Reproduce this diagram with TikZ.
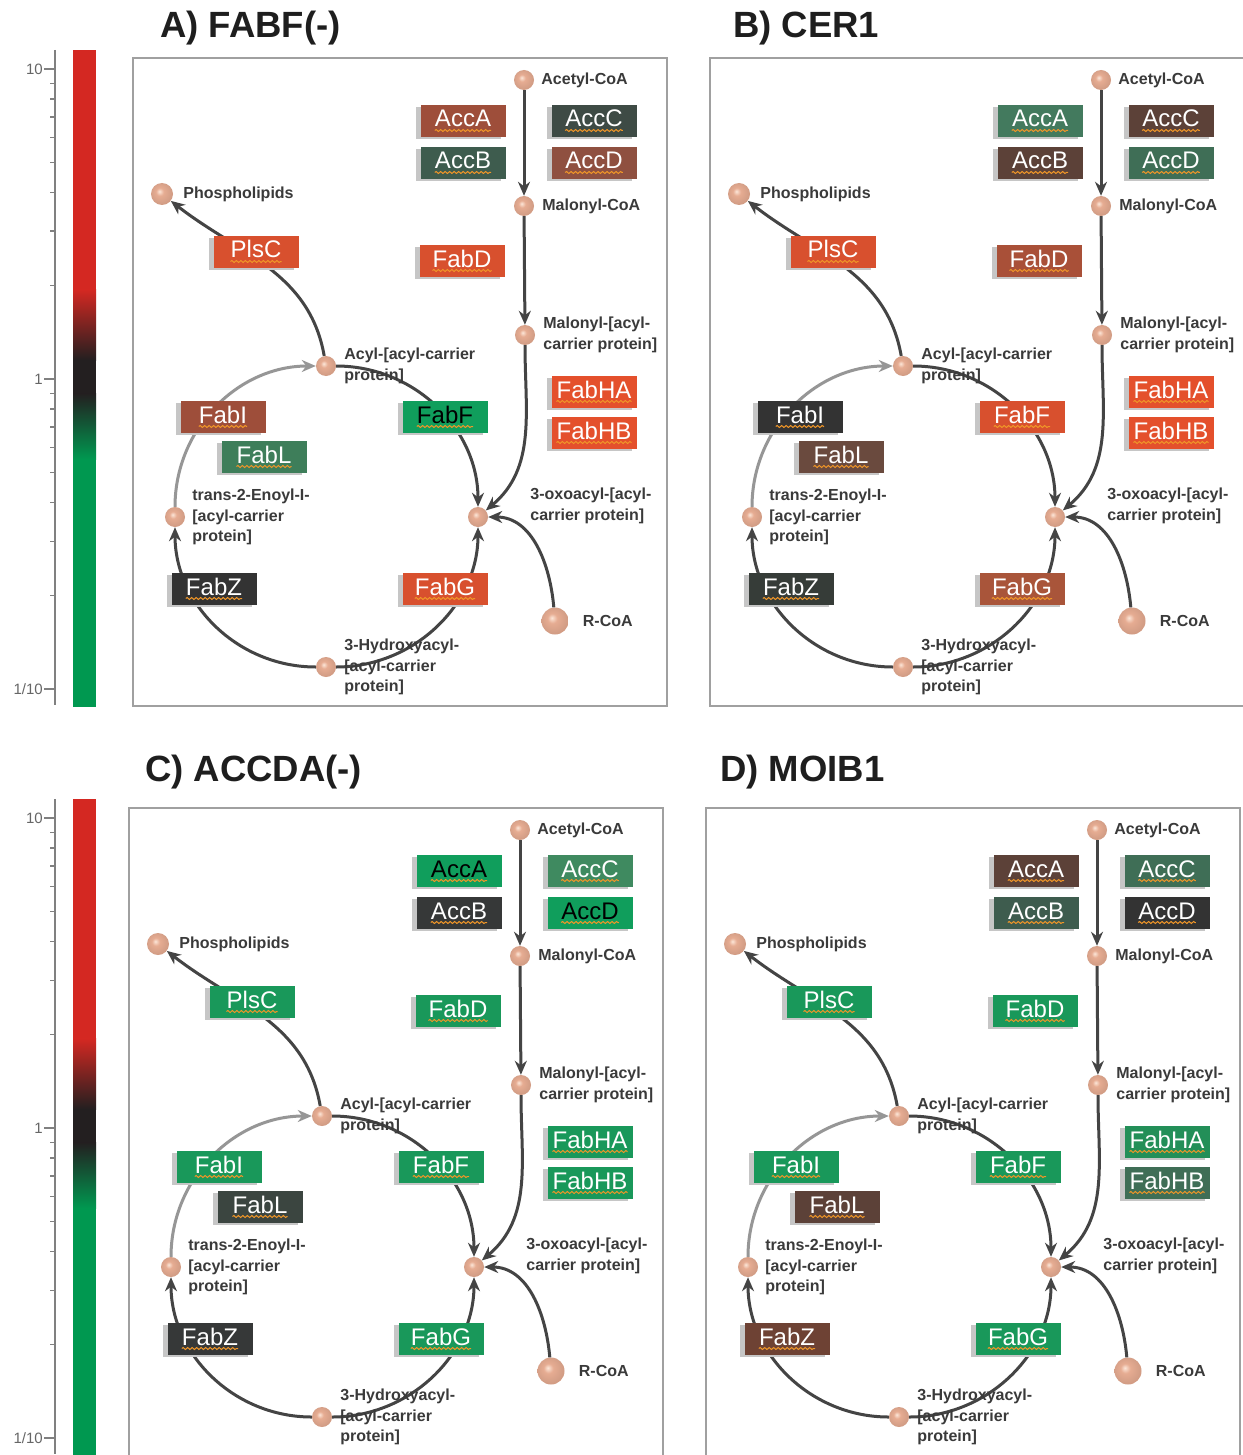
\documentclass[tikz,border=0pt]{standalone}
\usepackage{fontspec}
\setmainfont{Liberation Sans}
\usetikzlibrary{positioning,arrows.meta,shadows,decorations.pathmorphing}

% palette
\definecolor{peach}{RGB}{230,172,146}
\definecolor{peachhi}{RGB}{252,230,216}
\definecolor{peachlo}{RGB}{208,148,122}
\definecolor{edgegray}{RGB}{68,68,68}
\definecolor{lightedge}{RGB}{150,150,150}
\definecolor{framegray}{RGB}{160,160,160}
\definecolor{metgray}{RGB}{58,58,58}
\definecolor{titlegray}{RGB}{30,30,30}
\definecolor{wavecol}{RGB}{240,150,40}
\definecolor{barred}{RGB}{212,40,34}
\definecolor{barblack}{RGB}{35,31,32}
\definecolor{bargreen}{RGB}{0,152,80}
\definecolor{orangered}{RGB}{216,80,46}
\definecolor{brightred}{RGB}{228,80,44}
\definecolor{rust}{RGB}{158,78,58}
\definecolor{rustdark}{RGB}{143,80,64}
\definecolor{slate}{RGB}{62,75,69}
\definecolor{moss}{RGB}{62,92,78}
\definecolor{leaf}{RGB}{62,126,90}
\definecolor{mint}{RGB}{16,158,92}
\definecolor{coal}{RGB}{51,51,51}
\definecolor{sage}{RGB}{67,122,94}
\definecolor{cocoa}{RGB}{92,65,56}
\definecolor{pine}{RGB}{63,110,86}
\definecolor{clay}{RGB}{169,80,56}
\definecolor{umber}{RGB}{106,74,62}
\definecolor{charcoal}{RGB}{54,60,56}
\definecolor{sienna}{RGB}{169,85,58}
\definecolor{emerald}{RGB}{25,152,90}
\definecolor{fern}{RGB}{63,138,96}
\definecolor{graphite}{RGB}{54,56,56}
\definecolor{ash}{RGB}{59,69,64}
\definecolor{jade}{RGB}{35,143,88}
\definecolor{chestnut}{RGB}{110,66,52}

\pgfdeclareradialshading{peachball}{\pgfpoint{-6bp}{6bp}}{color(0bp)=(peachhi); color(9bp)=(peach); color(24bp)=(peach!92!black); color(34bp)=(peachlo); color(50bp)=(peachlo)}

\newcommand{\metfont}{\fontsize{16}{20.7}\selectfont}
\newcommand{\enzfont}{\fontsize{24}{24}\selectfont}

\tikzset{
  met/.style={circle, minimum size=20pt, inner sep=0pt, shading=peachball},
  metname/.style={inner sep=0pt, align=left, text=metgray, font=\metfont\bfseries},
  enzbox/.style={rectangle, minimum width=85pt, minimum height=32pt, inner sep=0pt,
    text=white, font=\enzfont, text height=17pt, text depth=5pt,
    general shadow={fill=gray!45, shadow xshift=-5pt, shadow yshift=-2pt}},
  enzword/.style={inner sep=0pt, anchor=base, font=\enzfont},
  spellwave/.style={draw=wavecol, line width=1pt, decorate,
    decoration={snake, amplitude=1pt, segment length=4.5pt}},
  flow/.style={draw=edgegray, line width=3pt, ->, >={Stealth[length=14pt,width=12pt]}},
  frame/.style={draw=framegray, line width=1.5pt},
  paneltitle/.style={inner sep=0pt, anchor=west, text=titlegray, font=\fontsize{36.5}{40}\selectfont\bfseries},
  axis/.style={draw=gray, line width=1.2pt},
  ticklabel/.style={inner sep=0pt, anchor=east, text=gray!80!black, font=\fontsize{15}{15}\selectfont}
}

% enzyme box with its wavy underline: name, position, text, extra keys
\newcommand{\enzyme}[4]{%
  \node[enzbox, fill=c#3, #4] (#1) at (#2) {#3};
  \node[enzword] (#1-w) at (#1.base) {\phantom{#3}};
  \draw[spellwave] ([yshift=-3.5pt]#1-w.base west) -- ([yshift=-3.5pt]#1-w.base east);
}

% one pathway panel, frame corner at the origin
\newcommand{\fasnetwork}{%
  \draw[frame] (0,0) rectangle (534,-648);
  % metabolites
  \node[met] (acetyl) at (391,-22) {};
  \node[met] (malcoa) at (391,-148) {};
  \node[met] (malacp) at (392,-277) {};
  \node[met] (oxo) at (345,-459) {};
  \node[met, minimum size=27pt] (rcoa) at (422,-563) {};
  \node[met] (hydroxy) at (193,-609) {};
  \node[met] (enoyl) at (42,-459) {};
  \node[met] (acyl) at (193,-308) {};
  \node[met, minimum size=22pt] (phospho) at (29,-136) {};
  % reactions
  \draw[flow] (acetyl) -- (malcoa);
  \draw[flow] (malcoa) -- (malacp);
  \draw[flow] (malacp) to[out=-90,in=40] (oxo);
  \draw[flow] (rcoa) to[out=95,in=0] (oxo);
  \draw[flow] (acyl) to[out=0,in=90] (oxo);
  \draw[flow] (hydroxy) to[out=0,in=-90] (oxo);
  \draw[flow] (hydroxy) to[out=180,in=-90] (enoyl);
  \draw[flow, draw=lightedge] (enoyl) to[out=90,in=180] (acyl);
  \draw[flow] (acyl) to[out=100,in=-38] (phospho);
  % metabolite names
  \node[metname, right=7pt of acetyl] (acetyl-t) {Acetyl-CoA};
  \node[metname, right=8pt of malcoa] (malcoa-t) {Malonyl-CoA};
  \node[metname, right=8pt of malacp] (malacp-t) {Malonyl-[acyl-\\carrier protein]};
  \node[metname, anchor=west] (oxo-t) at ([xshift=42pt,yshift=11pt]oxo.east) {3-oxoacyl-[acyl-\\carrier protein]};
  \node[metname, right=14pt of rcoa] (rcoa-t) {R-CoA};
  \node[metname, right=8pt of hydroxy] (hydroxy-t) {3-Hydroxyacyl-\\{}[acyl-carrier\\protein]};
  \node[metname, right=7pt of enoyl] (enoyl-t) {trans-2-Enoyl-I-\\{}[acyl-carrier\\protein]};
  \node[metname, right=8pt of acyl] (acyl-t) {Acyl-[acyl-carrier\\protein]};
  \node[metname, right=10pt of phospho] (phospho-t) {Phospholipids};
  % enzymes
  \enzyme{accA}{330,-63}{AccA}{tAccA/.try}
  \enzyme{accC}{461,-63}{AccC}{}
  \enzyme{accB}{330,-105}{AccB}{}
  \enzyme{accD}{461,-105}{AccD}{tAccD/.try}
  \enzyme{plsC}{123,-194}{PlsC}{}
  \enzyme{fabD}{329,-203}{FabD}{}
  \enzyme{fabHA}{461,-334}{FabHA}{}
  \enzyme{fabHB}{461,-375}{FabHB}{}
  \enzyme{fabI}{90,-359}{FabI}{}
  \enzyme{fabL}{131,-399}{FabL}{}
  \enzyme{fabF}{312,-359}{FabF}{tFabF/.try}
  \enzyme{fabZ}{81,-531}{FabZ}{}
  \enzyme{fabG}{312,-531}{FabG}{}
}

% fold-change colour bar, origin at the tick "1"
\newcommand{\ratiobar}{%
  \fill[barred] (73,329) rectangle (96,89);
  \shade[top color=barred, bottom color=barblack] (73,89.5) rectangle (96,19);
  \fill[barblack] (73,19.5) rectangle (96,-15);
  \shade[top color=barblack, bottom color=bargreen] (73,-14.5) rectangle (96,-80);
  \fill[bargreen] (73,-79.5) rectangle (96,-328);
  \draw[axis] (55,329) -- (55,-326);
  \foreach \k in {2,...,9} {
    \draw[axis] (50,{310*log10(\k)}) -- (55,{310*log10(\k)});
    \draw[axis] (50,{310*log10(\k)-310}) -- (55,{310*log10(\k)-310});
  }
  \foreach \t in {310,0,-310}
    \draw[axis] (44,\t) -- (55,\t);
  \node[ticklabel] (ten) at (43,310) {10};
  \node[ticklabel] (one) at (43,0) {1};
  \node[ticklabel] (tenth) at (43,-310) {1/10};
}

\begin{document}
\begin{tikzpicture}[x=1pt,y=1pt]
  \useasboundingbox[fill=white] (0,0) rectangle (1242,-1455);

  \begin{scope}[shift={(0,-379)}]
    \ratiobar
  \end{scope}
  \begin{scope}[shift={(0,-1128)}]
    \ratiobar
  \end{scope}

  \node[paneltitle] (titleA) at (160,-28) {A) FABF(-)};
  \node[paneltitle] (titleB) at (733,-28) {B) CER1};
  \node[paneltitle] (titleC) at (145,-772) {C) ACCDA(-)};
  \node[paneltitle] (titleD) at (720,-772) {D) MOIB1};

  % A
  \begin{scope}[shift={(133,-58)}]
    \colorlet{cAccA}{rust}\colorlet{cAccC}{slate}\colorlet{cAccB}{moss}\colorlet{cAccD}{rustdark}
    \colorlet{cPlsC}{orangered}\colorlet{cFabD}{orangered}\colorlet{cFabHA}{brightred}\colorlet{cFabHB}{brightred}
    \colorlet{cFabI}{rust}\colorlet{cFabL}{leaf}\colorlet{cFabF}{mint}\colorlet{cFabZ}{coal}\colorlet{cFabG}{orangered}
    \tikzset{tFabF/.style={text=black}}
    \fasnetwork
  \end{scope}

  % B
  \begin{scope}[shift={(710,-58)}]
    \colorlet{cAccA}{sage}\colorlet{cAccC}{cocoa}\colorlet{cAccB}{cocoa}\colorlet{cAccD}{pine}
    \colorlet{cPlsC}{orangered}\colorlet{cFabD}{clay}\colorlet{cFabHA}{brightred}\colorlet{cFabHB}{brightred}
    \colorlet{cFabI}{coal}\colorlet{cFabL}{umber}\colorlet{cFabF}{orangered}\colorlet{cFabZ}{charcoal}\colorlet{cFabG}{sienna}
    \fasnetwork
  \end{scope}

  % C
  \begin{scope}[shift={(129,-808)}]
    \colorlet{cAccA}{mint}\colorlet{cAccC}{fern}\colorlet{cAccB}{graphite}\colorlet{cAccD}{mint}
    \colorlet{cPlsC}{emerald}\colorlet{cFabD}{emerald}\colorlet{cFabHA}{emerald}\colorlet{cFabHB}{emerald}
    \colorlet{cFabI}{emerald}\colorlet{cFabL}{ash}\colorlet{cFabF}{emerald}\colorlet{cFabZ}{graphite}\colorlet{cFabG}{emerald}
    \tikzset{tAccA/.style={text=black}, tAccD/.style={text=black}}
    \fasnetwork
  \end{scope}

  % D
  \begin{scope}[shift={(706,-808)}]
    \colorlet{cAccA}{cocoa}\colorlet{cAccC}{pine}\colorlet{cAccB}{moss}\colorlet{cAccD}{coal}
    \colorlet{cPlsC}{emerald}\colorlet{cFabD}{emerald}\colorlet{cFabHA}{jade}\colorlet{cFabHB}{pine}
    \colorlet{cFabI}{emerald}\colorlet{cFabL}{cocoa}\colorlet{cFabF}{emerald}\colorlet{cFabZ}{chestnut}\colorlet{cFabG}{emerald}
    \fasnetwork
  \end{scope}
\end{tikzpicture}
\end{document}
